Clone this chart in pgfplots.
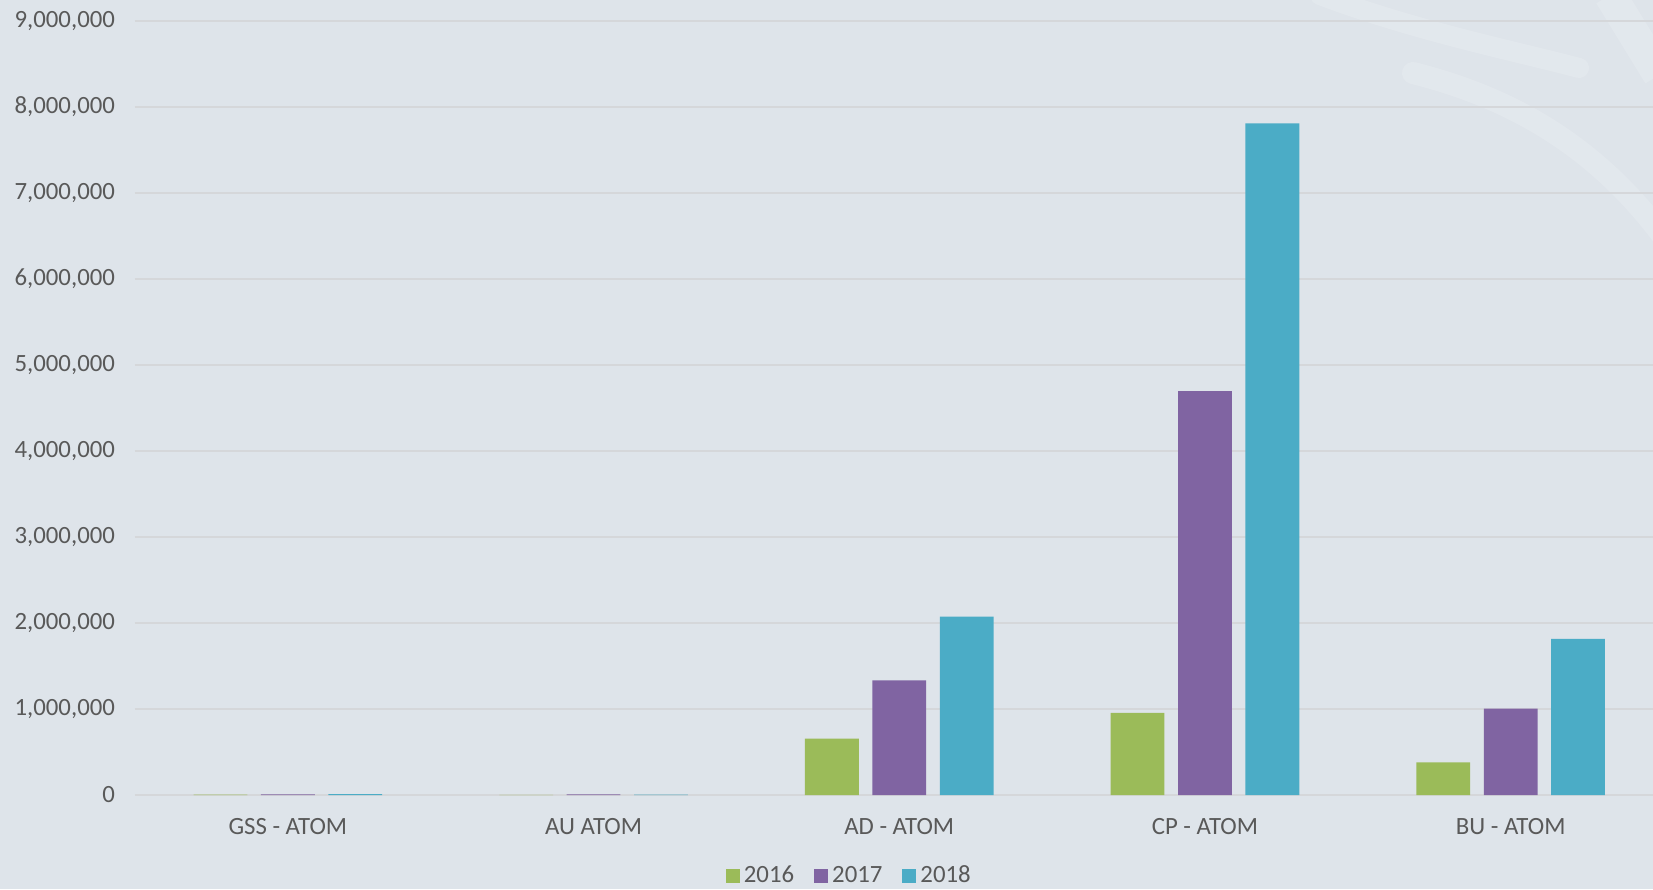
\documentclass[border=0pt]{standalone}
\usepackage{pgfplots}
\pgfplotsset{compat=1.18}
\usepackage{fontspec}
\setmainfont{Carlito}
\definecolor{bgc}{HTML}{DEE4EA}
\definecolor{gridc}{HTML}{D5D7DA}
\definecolor{txt}{HTML}{595959}
\definecolor{cA}{HTML}{9BBB59}
\definecolor{cB}{HTML}{8064A2}
\definecolor{cC}{HTML}{4BACC6}
\begin{document}
\begin{tikzpicture}[font=\fontsize{12.4}{14}\selectfont]
\fill[bgc] (-67.5pt,-47pt) rectangle (759pt,397.5pt);
\begin{scope}
\clip (-67.5pt,-47pt) rectangle (759pt,397.5pt);
\draw[white, opacity=0.15, line width=11pt, line cap=round] (639pt,361pt) .. controls (682.5pt,350pt) and (732.5pt,327.5pt) .. (772pt,268pt);
\draw[white, opacity=0.15, line width=10pt, line cap=round] (592.5pt,400pt) .. controls (640pt,382pt) and (690pt,372pt) .. (722pt,363.5pt);
\draw[white, opacity=0.15, line width=16pt] (737.5pt,400pt) -- (762pt,360pt);
\end{scope}
\begin{axis}[
  at={(0,0)}, anchor=south west, scale only axis,
  width=764.25pt, height=387pt,
  xmin=-0.5, xmax=4.5, ymin=0, ymax=9000000,
  ybar=6.8pt, bar width=26.9pt,
  xtick={0,...,4},
  xticklabels={GSS - ATOM, AU ATOM, AD - ATOM, CP - ATOM, BU - ATOM},
  ytick={0,1000000,...,9000000},
  scaled y ticks=false,
  /pgf/number format/.cd, fixed, 1000 sep={,}, assume math mode=true,
  /pgfplots/.cd,
  ymajorgrids, grid style={gridc, line width=0.7pt},
  axis line style={draw=none}, major tick length=0pt,
  tick label style={text=txt},
  yticklabel style={xshift=-6.5pt},
  xticklabel style={yshift=-8pt},
  clip=false,
  legend columns=3,
  legend style={at={(0.468,-0.1045)}, anchor=center, draw=none, fill=none, text=txt,
    /tikz/every even column/.append style={column sep=8pt}},
]
\addplot[fill=cA, draw=none, legend image code/.code={\fill[cA] (0pt,-3.5pt) rectangle (7pt,3.5pt);}] coordinates {(0,3000) (1,2000) (2,657000) (3,956000) (4,380000)};
\addplot[fill=cB, draw=none, legend image code/.code={\fill[cB] (0pt,-3.5pt) rectangle (7pt,3.5pt);}] coordinates {(0,6000) (1,7000) (2,1334000) (3,4696000) (4,1005000)};
\addplot[fill=cC, draw=none, legend image code/.code={\fill[cC] (0pt,-3.5pt) rectangle (7pt,3.5pt);}] coordinates {(0,9000) (1,4000) (2,2074000) (3,7810000) (4,1815000)};
\legend{2016,2017,2018}
\end{axis}
\pgfresetboundingbox
\path[use as bounding box] (-67.5pt,-47pt) rectangle (759pt,397.5pt);
\end{tikzpicture}
\end{document}
